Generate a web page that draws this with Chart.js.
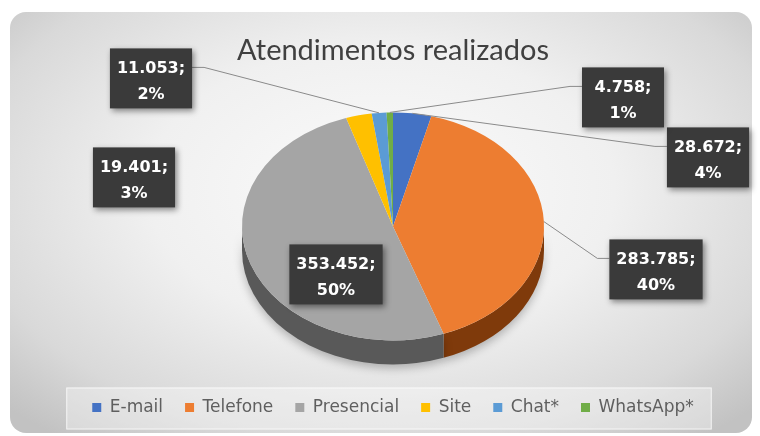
<!DOCTYPE html>
<html>
<head>
<meta charset="utf-8">
<script src="https://cdn.jsdelivr.net/npm/chart.js@4"></script>
<style>
  html, body { margin: 0; padding: 0; background: #fff; }
  #wrap { position: relative; width: 760px; height: 436px; }
  #painel {
    position: absolute; left: 10px; top: 12px; width: 742px; height: 421px;
    border-radius: 16px;
    background: radial-gradient(ellipse 70% 75% at 50% 42%, #fbfbfb 0%, #f0f0f0 45%, #d9d9d9 80%, #c2c2c2 100%);
  }
  canvas { position: absolute; left: 0; top: 0; }
</style>
</head>
<body>
<div id="wrap">
  <div id="painel"></div>
  <canvas id="chart" width="760" height="436"></canvas>
</div>
<script>
// Dados do gráfico
const categorias = ['E-mail', 'Telefone', 'Presencial', 'Site', 'Chat*', 'WhatsApp*'];
const atendimentos = [28672, 283785, 353452, 19401, 11053, 4758];
const cores = ['#4472C4', '#ED7D31', '#A5A5A5', '#FFC000', '#5B9BD5', '#70AD47'];
const coresLateral = ['#2f5291', '#7f3a0b', '#595959', '#a87f00', '#3c6e9c', '#4a7a2e'];

// Posição das caixas de rótulo (deslocamento do centro da pizza) e se têm linha guia
const posRotulos = [[315, -69], [263, 43], [-57, 48], [-259, -49], [-242, -148], [230, -129]];
const comLinha = [true, true, false, false, true, true];

const INCLINACAO = 0.755;   // achatamento da elipse
const PROFUNDIDADE = 24;    // espessura da pizza 3D

// Formata número no padrão brasileiro (28.672)
function formatar(n) {
    return String(n).replace(/\B(?=(\d{3})+(?!\d))/g, '.');
}

function centroPizza(chart) {
    const arc = chart.getDatasetMeta(0).data[0];
    return { x: arc.x, y: arc.y, rx: arc.outerRadius, ry: arc.outerRadius * INCLINACAO };
}

// Desenha a lateral e achata as fatias
const pizza3d = {
    id: 'pizza3d',
    beforeDatasetsDraw(chart) {
        const ctx = chart.ctx;
        const meta = chart.getDatasetMeta(0);
        const c = centroPizza(chart);

        ctx.save();
        ctx.shadowColor = 'rgba(0,0,0,0.25)';
        ctx.shadowBlur = 8;
        ctx.shadowOffsetY = 4;
        meta.data.forEach((arc, i) => {
            const a1 = Math.max(arc.startAngle, 0);
            const a2 = Math.min(arc.endAngle, Math.PI);
            if (a1 >= a2) return;
            ctx.fillStyle = coresLateral[i];
            ctx.beginPath();
            ctx.ellipse(c.x, c.y, c.rx, c.ry, 0, a1, a2);
            ctx.ellipse(c.x, c.y + PROFUNDIDADE, c.rx, c.ry, 0, a2, a1, true);
            ctx.closePath();
            ctx.fill();
        });
        ctx.restore();

        ctx.save();
        ctx.translate(c.x, c.y);
        ctx.scale(1, INCLINACAO);
        ctx.translate(-c.x, -c.y);
    },
    afterDatasetsDraw(chart) {
        chart.ctx.restore();
    }
};

// Fundo claro da legenda
const fundoLegenda = {
    id: 'fundoLegenda',
    beforeDraw(chart) {
        const caixas = chart.legend.legendHitBoxes;
        if (!caixas || !caixas.length) return;
        const ctx = chart.ctx;
        const ult = caixas[caixas.length - 1];
        const x1 = caixas[0].left - 26;
        const x2 = ult.left + ult.width + 18;
        const cy = caixas[0].top + caixas[0].height / 2;
        ctx.save();
        ctx.fillStyle = 'rgba(255,255,255,0.35)';
        ctx.fillRect(x1, cy - 20, x2 - x1, 42);
        ctx.strokeStyle = 'rgba(255,255,255,0.7)';
        ctx.lineWidth = 1;
        ctx.strokeRect(x1 + 0.5, cy - 19.5, x2 - x1 - 1, 41);
        ctx.restore();
    }
};

// Rótulos em caixas escuras
const rotulos = {
    id: 'rotulos',
    afterDraw(chart) {
        const ctx = chart.ctx;
        const meta = chart.getDatasetMeta(0);
        const c = centroPizza(chart);
        const total = atendimentos.reduce((a, b) => a + b, 0);
        ctx.save();
        ctx.font = 'bold 16px "DejaVu Sans"';
        meta.data.forEach((arc, i) => {
            const l1 = formatar(atendimentos[i]) + ';';
            const l2 = Math.round(atendimentos[i] / total * 100) + '%';
            const w = Math.max(ctx.measureText(l1).width + 14, 82);
            const h = 60;
            const bx = c.x + posRotulos[i][0] - w / 2;
            const by = c.y + posRotulos[i][1] - h / 2;

            if (comLinha[i]) {
                const meio = (arc.startAngle + arc.endAngle) / 2;
                const px = c.x + c.rx * Math.cos(meio);
                const py = c.y + c.ry * Math.sin(meio);
                const esq = px < bx;
                const ex = esq ? bx : bx + w;
                const ey = by + 19;
                ctx.strokeStyle = '#8a8a8a';
                ctx.lineWidth = 1;
                ctx.beginPath();
                ctx.moveTo(px, py);
                ctx.lineTo(ex + (esq ? -12 : 12), ey);
                ctx.lineTo(ex, ey);
                ctx.stroke();
            }

            ctx.save();
            ctx.shadowColor = 'rgba(0,0,0,0.45)';
            ctx.shadowBlur = 6;
            ctx.shadowOffsetX = 2;
            ctx.shadowOffsetY = 3;
            ctx.fillStyle = '#3a3a3a';
            ctx.fillRect(bx, by, w, h);
            ctx.restore();

            ctx.fillStyle = '#ffffff';
            ctx.textAlign = 'center';
            ctx.textBaseline = 'middle';
            ctx.fillText(l1, bx + w / 2, by + 20);
            ctx.fillText(l2, bx + w / 2, by + 46);
        });
        ctx.restore();
    }
};

const ctx = document.getElementById('chart').getContext('2d');
new Chart(ctx, {
    type: 'pie',
    data: {
        labels: categorias,
        datasets: [{
            data: atendimentos,
            backgroundColor: cores,
            borderWidth: 0,
            radius: 151
        }]
    },
    options: {
        responsive: false,
        animation: false,
        layout: { padding: { left: 26, right: 0, top: 0, bottom: 10 } },
        plugins: {
            title: {
                display: true,
                text: 'Atendimentos realizados',
                color: '#404040',
                font: { family: 'Lato', size: 29, weight: 'normal' },
                padding: { top: 33, bottom: 8 }
            },
            legend: {
                position: 'bottom',
                labels: {
                    boxWidth: 9,
                    boxHeight: 9,
                    padding: 22,
                    color: '#5f5f5f',
                    font: { family: 'DejaVu Sans', size: 17 }
                }
            },
            tooltip: { enabled: false }
        }
    },
    plugins: [fundoLegenda, pizza3d, rotulos]
});
</script>
</body>
</html>
